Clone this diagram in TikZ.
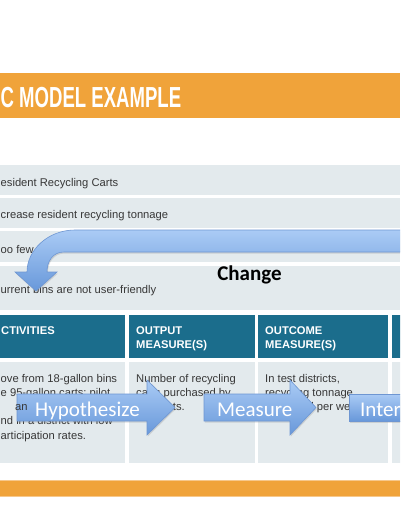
\documentclass[tikz,border=0pt]{standalone}
\usepackage{fontspec}
\setmainfont{Liberation Sans}
\newfontfamily\calfont{Carlito}
\newfontfamily\titlefont{Liberation Sans}[FakeStretch=0.64]
\usetikzlibrary{shadows}
\definecolor{orangebar}{RGB}{240,163,58}
\definecolor{orangeedge}{RGB}{247,200,140}
\definecolor{rowc}{RGB}{227,234,237}
\definecolor{headc}{RGB}{27,109,140}
\definecolor{txtc}{RGB}{55,55,55}
\definecolor{arrowtop}{RGB}{170,203,245}
\definecolor{arrowbot}{RGB}{104,152,218}
\definecolor{arrowedge}{RGB}{110,150,210}
\begin{document}
\begin{tikzpicture}[x=1pt,y=-1pt,
  txt/.style={anchor=base west, inner sep=0pt, text=txtc, font=\fontsize{11.2}{14}\selectfont},
  headtxt/.style={anchor=base west, inner sep=0pt, text=white, font=\bfseries\fontsize{11.2}{14}\selectfont},
  arrtxt/.style={anchor=base west, inner sep=0pt, text=white, font=\calfont\fontsize{21}{21}\selectfont},
  blockarrow/.style={draw=arrowedge, line width=0.6pt, top color=arrowtop, bottom color=arrowbot,
    drop shadow={opacity=0.25, shadow xshift=0.8pt, shadow yshift=-1.5pt}}]
\useasboundingbox (0,0) rectangle (400,516);
\clip (0,0) rectangle (400,516);
\fill[white] (0,0) rectangle (400,516);
% title bar
\fill[orangebar] (0,73) rectangle (400,118);
\node[anchor=base west, inner sep=0pt, text=white, font=\titlefont\bfseries\fontsize{29}{29}\selectfont] (title) at (0.5,107) {C MODEL EXAMPLE};
% bottom bar
\fill[orangebar] (0,480) rectangle (400,496);
\draw[orangeedge, line width=0.7pt] (0,480.3) -- (400,480.3);
\draw[orangeedge, line width=0.5pt] (0,495.8) -- (400,495.8);
% rows
\fill[rowc] (0,165) rectangle (400,195);
\fill[rowc] (0,198) rectangle (400,228);
\fill[rowc] (0,231) rectangle (400,262);
\fill[rowc] (0,266) rectangle (400,310);
\node[txt] (r1) at (0.5,186) {esident Recycling Carts};
\node[txt] (r2) at (0.5,218) {crease resident recycling tonnage};
\node[txt] (r3) at (0.5,253) {oo few};
\node[txt] (r4) at (0.5,293) {urrent bins are not user-friendly};
% table header
\fill[headc] (0,315) rectangle (125,358);
\fill[headc] (129,315) rectangle (255,358);
\fill[headc] (258,315) rectangle (388,358);
\fill[headc] (392,315) rectangle (405,358);
\fill[rowc] (0,362) rectangle (125,463);
\fill[rowc] (129,362) rectangle (255,463);
\fill[rowc] (258,362) rectangle (388,463);
\fill[rowc] (392,362) rectangle (405,463);
\node[headtxt] (h1) at (1,334) {CTIVITIES};
\node[headtxt] (h2a) at (136,334) {OUTPUT};
\node[headtxt] (h2b) at (136,348) {MEASURE(S)};
\node[headtxt] (h3a) at (265,334) {OUTCOME};
\node[headtxt] (h3b) at (265,348) {MEASURE(S)};
% body text
\node[txt] (a1) at (0.5,382) {ove from 18-gallon bins};
\node[txt] (a2) at (0.5,396) {e 95-gallon carts; pilot};
\node[txt] (a4) at (0.5,424) {nd in a district with low};
\node[txt] (a5) at (0.5,439) {articipation rates.};
\node[txt] (b1) at (136,382) {Number of recycling};
\node[txt] (b2) at (136,396) {carts purchased by};
\node[txt] (b3) at (136,410) {residents.};
\node[txt] (c1) at (265,382) {In test districts,};
\node[txt] (c2) at (265,396) {recycling tonnage};
\node[txt] (c3) at (265,410) {increased per week};
% Change arrow
\path[blockarrow] (405,230) -- (75,230) .. controls (48,230) and (27,250) .. (27,272)
  -- (15,272) -- (36,291) -- (57,272) -- (47,272)
  .. controls (47,261) and (53,252) .. (64,252) -- (405,252) -- cycle;
\node[anchor=base, inner sep=0pt, text=black, font=\calfont\bfseries\fontsize{21}{21}\selectfont] (change) at (249.5,280) {Change};
% process arrows
\path[blockarrow] (17,394) -- (147,394) -- (147,380) -- (175,407.5) -- (147,435) -- (147,421) -- (17,421) -- cycle;
\path[blockarrow] (204,394) -- (290,394) -- (290,380) -- (316,407.5) -- (290,435) -- (290,421) -- (204,421) -- cycle;
\path[blockarrow] (349,394) -- (410,394) -- (410,421) -- (349,421) -- cycle;
\node[arrtxt] (hyp) at (35,416) {Hypothesize};
\node[arrtxt] (mea) at (217,416) {Measure};
\node[arrtxt] (int) at (360,416) {Interpret};
\node[txt] (a3) at (15,410) {an};
\end{tikzpicture}
\end{document}
